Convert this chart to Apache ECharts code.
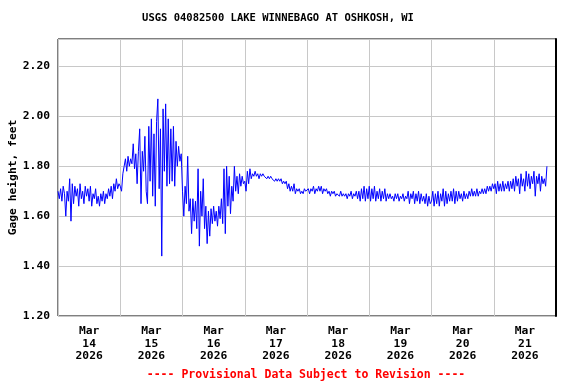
<!DOCTYPE html>
<html>
<head>
<meta charset="utf-8">
<script src="https://cdn.jsdelivr.net/npm/echarts@6/dist/echarts.min.js"></script>
<style>html,body{margin:0;padding:0;background:#fff;}#c{width:576px;height:384px;}</style>
</head>
<body>
<div id="c"></div>
<script>
// Gage height (feet), 30-minute readings, one array per day starting at midnight
const mar14 = [1.70,1.67,1.71,1.66,1.72,1.69,1.60,1.70, 1.66,1.75,1.58,1.73,1.65,1.72,1.68,1.71, 1.64,1.73,1.67,1.70,1.65,1.72,1.68,1.71, 1.66,1.72,1.64,1.69,1.67,1.71,1.65,1.68, 1.64,1.69,1.66,1.70,1.65,1.69,1.67,1.71, 1.68,1.72,1.67,1.73,1.70,1.75,1.71,1.73];
const mar15 = [1.72,1.70,1.77,1.80,1.83,1.78,1.84,1.80, 1.83,1.81,1.89,1.79,1.85,1.73,1.86,1.95, 1.65,1.86,1.78,1.92,1.70,1.65,1.96,1.74, 1.99,1.68,1.93,1.64,1.98,2.07,1.71,1.95, 1.44,2.03,1.78,2.05,1.72,1.99,1.73,1.95, 1.74,1.96,1.72,1.90,1.80,1.88,1.82,1.85];
const mar16 = [1.70,1.60,1.72,1.65,1.84,1.62,1.67,1.53, 1.67,1.58,1.66,1.55,1.79,1.48,1.70,1.60, 1.75,1.55,1.64,1.49,1.62,1.52,1.63,1.57, 1.64,1.58,1.62,1.56,1.64,1.59,1.67,1.57, 1.79,1.53,1.80,1.64,1.76,1.61,1.72,1.66, 1.80,1.70,1.76,1.69,1.77,1.72,1.76,1.73];
const mar17 = [1.74,1.70,1.78,1.73,1.79,1.75,1.77,1.76, 1.78,1.76,1.77,1.75,1.77,1.76,1.77,1.76, 1.76,1.75,1.76,1.75,1.76,1.75,1.75,1.74, 1.75,1.74,1.75,1.74,1.75,1.73,1.74,1.73, 1.74,1.71,1.73,1.70,1.72,1.70,1.73,1.69, 1.71,1.70,1.71,1.69,1.70,1.69,1.71,1.70];
const mar18 = [1.70,1.71,1.69,1.71,1.70,1.72,1.69,1.71, 1.70,1.72,1.70,1.72,1.69,1.71,1.70,1.71, 1.69,1.70,1.68,1.70,1.69,1.70,1.68,1.69, 1.69,1.68,1.70,1.68,1.69,1.68,1.69,1.67, 1.69,1.68,1.70,1.67,1.69,1.68,1.70,1.67, 1.70,1.66,1.71,1.67,1.72,1.66,1.71,1.67];
const mar19 = [1.72,1.66,1.71,1.67,1.72,1.66,1.70,1.67, 1.71,1.66,1.70,1.67,1.71,1.66,1.69,1.67, 1.69,1.67,1.68,1.66,1.69,1.67,1.69,1.66, 1.68,1.67,1.69,1.66,1.68,1.67,1.70,1.65, 1.69,1.67,1.70,1.65,1.69,1.66,1.70,1.65, 1.69,1.66,1.68,1.65,1.69,1.64,1.68,1.65];
const mar20 = [1.66,1.70,1.64,1.69,1.65,1.70,1.64,1.69, 1.66,1.71,1.64,1.70,1.65,1.69,1.66,1.70, 1.66,1.71,1.65,1.70,1.66,1.70,1.67,1.69, 1.66,1.70,1.67,1.69,1.67,1.70,1.68,1.71, 1.68,1.70,1.68,1.71,1.68,1.70,1.69,1.71, 1.69,1.71,1.69,1.72,1.70,1.72,1.70,1.73];
const mar21 = [1.71,1.73,1.69,1.74,1.70,1.73,1.70,1.74, 1.70,1.73,1.71,1.74,1.70,1.74,1.71,1.75, 1.70,1.76,1.72,1.75,1.69,1.77,1.72,1.75, 1.70,1.78,1.72,1.77,1.71,1.76,1.73,1.78, 1.68,1.76,1.73,1.77,1.70,1.76,1.73,1.75, 1.72,1.80];

const days = [mar14, mar15, mar16, mar17, mar18, mar19, mar20, mar21];
const dayNumbers = ['14','15','16','17','18','19','20','21'];
const monthLabel = 'Mar';
const yearLabel = '2026';
const yTicks = [1.20, 1.40, 1.60, 1.80, 2.00, 2.20];

const stepHours = 0.5;
const seriesData = [];
days.forEach((arr, d) => {
  arr.forEach((v, i) => seriesData.push([d * 24 + i * stepHours, v]));
});
const dateLabels = dayNumbers.map(n => monthLabel + '\n' + n + '\n' + yearLabel);

const FONT = 'DejaVu Sans Mono';
const chart = echarts.init(document.getElementById('c'), null, {renderer: 'canvas'});
chart.setOption({
  animation: false,
  backgroundColor: '#fff',
  title: [
    {text: 'USGS 04082500 LAKE WINNEBAGO AT OSHKOSH, WI', left: 278, top: 13, textAlign: 'center', padding: 0,
     textStyle: {fontFamily: FONT, fontWeight: 'bold', fontSize: 10.5, color: '#000'}},
    {text: '---- Provisional Data Subject to Revision ----', left: 306, top: 369, textAlign: 'center', padding: 0,
     textStyle: {fontFamily: FONT, fontWeight: 'bold', fontSize: 11.5, color: '#ff0000'}}
  ],
  grid: {left: 58, right: 20, top: 39, bottom: 68, show: true, borderColor: '#000', borderWidth: 1,
         backgroundColor: '#fff', containLabel: false, outerBoundsMode: 'none'},
  xAxis: [
    {type: 'value', min: 0, max: 192, interval: 24,
     axisLabel: {show: false}, axisTick: {show: false}, axisLine: {show: false},
     splitLine: {show: true, lineStyle: {color: '#c8c8c8', width: 1}}},
    {type: 'category', data: dateLabels, position: 'bottom', boundaryGap: true,
     axisTick: {show: false}, axisLine: {show: false}, splitLine: {show: false},
     axisLabel: {interval: 0, margin: 9, lineHeight: 12.5, fontFamily: FONT, fontWeight: 'bold', fontSize: 11.3, color: '#000'}}
  ],
  yAxis: [
    {type: 'value', min: yTicks[0], max: 2.31, interval: 0.2,
     name: 'Gage height, feet', nameLocation: 'middle', nameRotate: 90, nameGap: 39, nameMoveOverlap: false,
     nameTextStyle: {fontFamily: FONT, fontWeight: 'bold', fontSize: 11.3, color: '#000'},
     axisLabel: {showMaxLabel: false, margin: 8, fontFamily: FONT, fontWeight: 'bold', fontSize: 11.3, color: '#000',
       formatter: v => v.toFixed(2)},
     axisTick: {show: false}, axisLine: {show: false},
     splitLine: {show: true, lineStyle: {color: '#c8c8c8', width: 1}}},
    {type: 'value', min: yTicks[0], max: 2.31, position: 'right',
     axisLabel: {show: false}, axisTick: {show: false}, splitLine: {show: false},
     axisLine: {show: true, lineStyle: {color: '#000', width: 2}}}
  ],
  series: [{
    type: 'line', xAxisIndex: 0, yAxisIndex: 0, data: seriesData,
    showSymbol: false, symbol: 'none',
    lineStyle: {color: '#0000ff', width: 1}
  }]
});
</script>
</body>
</html>
